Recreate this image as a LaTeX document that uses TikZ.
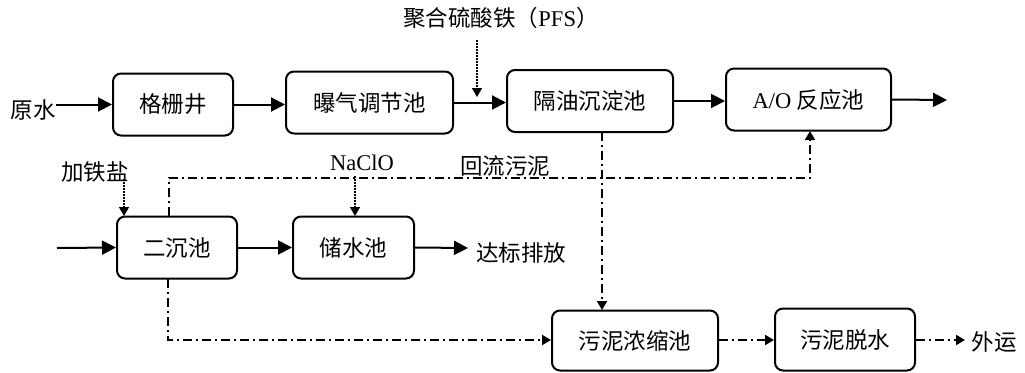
\documentclass[tikz,border=0pt]{standalone}
\usepackage{fontspec}
\setmainfont{Liberation Serif}
\newfontfamily\cjk{Noto Sans CJK SC}
\usetikzlibrary{arrows.meta}
\begin{document}
\begin{tikzpicture}[x=1pt,y=-1pt,
  box/.style={draw,line width=2pt,rounded corners=8pt,minimum height=62pt,inner sep=0pt,font=\fontsize{22.5}{25}\selectfont\cjk},
  lbl/.style={inner sep=0pt,font=\fontsize{22.5}{25}\selectfont\cjk},
  flow/.style={line width=2pt,-{Triangle[length=14pt,width=14pt]}},
  sludge/.style={line width=2pt,dash pattern=on 9pt off 4pt on 2pt off 4pt,-{Triangle[length=9pt,width=10pt]}},
  dose/.style={line width=1.5pt,dash pattern=on 1.5pt off 1.5pt,-{Triangle[length=9pt,width=10pt]}}]
\useasboundingbox (0,0) rectangle (1025,372);
% boxes
\node[box,minimum width=120pt] (b1) at (173,104.5) {格栅井};
\node[box,minimum width=167pt] (b2) at (369.5,102.5) {曝气调节池};
\node[box,minimum width=166pt] (b3) at (590,101) {隔油沉淀池};
\node[box,minimum width=165pt] (b4) at (808.5,99.5) {\rmfamily A/O {\cjk 反应池}};
\node[box,minimum width=120pt] (b5) at (177,247.5) {二沉池};
\node[box,minimum width=121pt] (b6) at (353.5,247.5) {储水池};
\node[box,minimum width=166pt,minimum height=60pt] (b7) at (635,340.5) {污泥浓缩池};
\node[box,minimum width=140pt] (b8) at (845,339.5) {污泥脱水};
% labels
\node[lbl] (ys) at (33,110) {原水};
\node[lbl] (pfs) at (501,18) {聚合硫酸铁（{\rmfamily PFS}）};
\node[lbl] (fe) at (95,172) {加铁盐};
\node[lbl] (naclo) at (362,163) {\rmfamily NaClO};
\node[lbl] (hl) at (505,166) {回流污泥};
\node[lbl] (db) at (521,253) {达标排放};
\node[lbl] (wy) at (994,342) {外运};
% coordinates
\coordinate (in5) at (57,248);
\coordinate (out4) at (947,100);
\coordinate (pfsA) at (477,40);
\coordinate (pfsB) at (477,97);
\coordinate (feA) at (124,179);
\coordinate (feB) at (124,216);
\coordinate (naA) at (355,176);
\coordinate (naB) at (355,216);
\coordinate (r0) at (169,216);
\coordinate (r1) at (169,178);
\coordinate (r2) at (810,178);
\coordinate (r3) at (810,131);
\coordinate (s0) at (602,132);
\coordinate (s1) at (602,310);
\coordinate (t0) at (168,279);
\coordinate (t1) at (168,340);
\coordinate (db0) at (468,248);
\coordinate (wy0) at (965,340);
% main flow
\draw[flow] (ys.east |- b1.west) -- (b1.west);
\draw[flow] (b1.east) -- (b1.east -| b2.west);
\draw[flow] (b2.east) -- (b2.east -| b3.west);
\draw[flow] (b3.east) -- (b3.east -| b4.west);
\draw[flow] (b4.east) -- (out4);
\draw[flow] (in5) -- (b5.west);
\draw[flow] (b5.east) -- (b6.west);
\draw[flow] (b6.east) -- (db0);
% dosing
\draw[dose] (pfsA) -- (pfsB);
\draw[dose] (feA) -- (feB);
\draw[dose] (naA) -- (naB);
% sludge
\draw[sludge] (r0) -- (r1) -- (r2) -- (r3);
\draw[sludge] (s0) -- (s1);
\draw[sludge] (t0) -- (t1) -- (t1 -| b7.west);
\draw[sludge] (b7.east |- t1) -- (b8.west |- t1);
\draw[sludge] (b8.east |- t1) -- (wy0);
\end{tikzpicture}
\end{document}
